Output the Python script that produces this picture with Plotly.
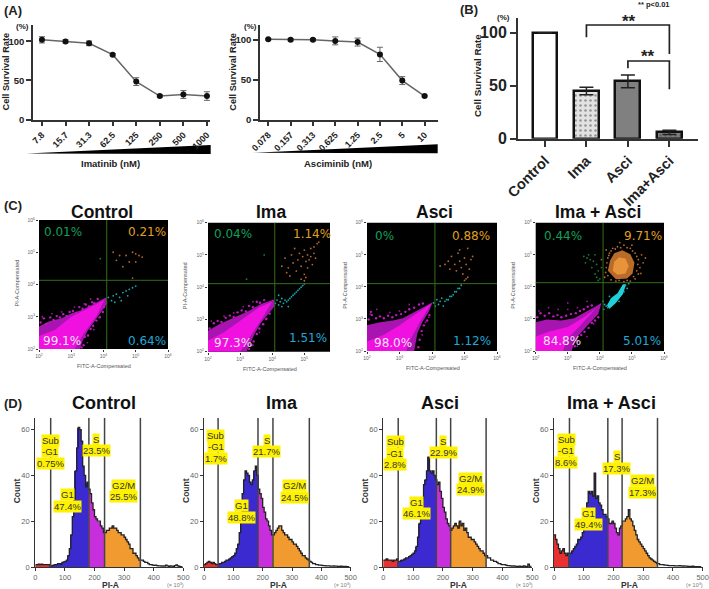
import plotly.graph_objects as go

W, H = 709, 589
SANS = "Liberation Sans"

# ---------- Panel A ----------
IMA_DOSE = ["7.8", "15.7", "31.3", "62.5", "125", "250", "500", "1000"]
IMA_RATE = [102, 100, 97.5, 83, 48.5, 30, 32, 30]
IMA_ERR = [4, 2, 3, 1.5, 5, 1.5, 5, 5.5]
ASC_DOSE = ["0.078", "0.157", "0.313", "0.625", "1.25", "2.5", "5", "10"]
ASC_RATE = [101, 100.5, 100.5, 99, 97.5, 82, 49, 29.5]
ASC_ERR = [1, 1.5, 1.5, 5, 5, 9, 5, 1]

# ---------- Panel B ----------
B_CATS = ["Control", "Ima", "Asci", "Ima+Asci"]
B_RATE = [100, 45, 54, 6]
B_ERR = [0, 3.5, 6, 2]
B_BRACKET1_X = [1, 1, 3, 3]
B_BRACKET1_Y = [95.7, 107.3, 107.3, 80]
B_BRACKET2_X = [2, 2, 3, 3]
B_BRACKET2_Y = [66.4, 73.3, 73.3, 46.6]

# ---------- Panel C (log10 units) ----------
C_TITLES = ["Control", "Ima", "Asci", "Ima + Asci"]
C_GATES = [(4.10, 4.13), (4.08, 4.11), (4.09, 4.10), (4.10, 4.13)]
C_XMAX = [6.0, 5.8, 6.0, 6.0]
C_PCT = [["0.01%", "0.21%", "99.1%", "0.64%"], ["0.04%", "1.14%", "97.3%", "1.51%"],
         ["0%", "0.88%", "98.0%", "1.12%"], ["0.44%", "9.71%", "84.8%", "5.01%"]]

MAG_OUTER = [
    [(2, 2), (2, 2.7), (2.3, 2.85), (2.7, 2.95), (3.0, 3.1), (3.3, 3.2), (3.6, 3.35), (3.85, 3.48), (4.08, 3.6), (4.12, 3.42), (3.9, 3.12), (3.7, 2.85), (3.5, 2.55), (3.35, 2.25), (3.27, 2)],
    [(2, 2), (2, 2.65), (2.35, 2.85), (2.7, 3.0), (3.0, 3.15), (3.3, 3.28), (3.65, 3.48), (4.05, 3.62), (4.08, 3.42), (3.85, 3.15), (3.65, 2.9), (3.45, 2.55), (3.3, 2.25), (3.2, 2)],
    [(2, 2), (2, 2.8), (2.4, 2.9), (2.8, 2.95), (3.1, 3.02), (3.4, 3.18), (3.7, 3.35), (4.02, 3.52), (3.9, 3.22), (3.7, 2.9), (3.55, 2.55), (3.5, 2.25), (3.45, 2)],
    [(2, 2), (2, 2.9), (2.35, 2.98), (2.8, 2.95), (3.2, 3.02), (3.55, 3.2), (3.85, 3.38), (4.05, 3.5), (3.95, 3.15), (3.6, 2.78), (3.35, 2.5), (3.2, 2.25), (3.12, 2)],
]
MAG_INNER = [
    [(2, 2), (2, 2.4), (2.5, 2.6), (3, 3.0), (3.6, 3.3), (4.03, 3.53), (3.8, 3.05), (3.4, 2.5), (3.1, 2)],
    [(2, 2), (2, 2.35), (2.5, 2.6), (3, 2.95), (3.6, 3.38), (4.0, 3.55), (3.7, 3.05), (3.3, 2.45), (3.0, 2)],
    [(2, 2), (2, 2.3), (2.5, 2.5), (3, 2.8), (3.5, 3.15), (3.98, 3.48), (3.6, 2.85), (3.3, 2.3), (3.2, 2)],
    [(2, 2), (2, 2.45), (2.4, 2.6), (3, 2.75), (3.5, 3.05), (3.9, 3.35), (3.4, 2.8), (3.0, 2.4), (2.85, 2)],
]
MAG_FRINGE = [
    [(2.05, 2.82), (2.15, 2.95), (2.22, 2.78), (2.35, 2.98), (2.45, 2.9), (2.55, 3.02), (2.65, 2.98), (2.75, 3.08), (2.85, 3.02), (2.95, 3.15),
     (3.05, 3.18), (3.15, 3.12), (3.25, 3.3), (3.35, 3.25), (3.45, 3.38), (3.55, 3.32), (3.65, 3.45), (3.72, 3.42), (3.82, 3.55), (3.42, 2.38),
     (3.52, 2.42), (3.6, 2.62), (3.68, 2.72), (3.78, 2.88), (3.88, 2.98), (3.98, 3.15), (4.02, 3.3), (3.38, 2.12), (3.32, 2.05)],
    [(2.05, 2.72), (2.18, 2.88), (2.3, 2.95), (2.42, 2.92), (2.55, 3.05), (2.68, 3.12), (2.8, 3.08), (2.92, 3.22), (3.05, 3.28), (3.18, 3.25),
     (3.28, 3.42), (3.4, 3.38), (3.52, 3.55), (3.62, 3.52), (3.75, 3.6), (3.35, 2.2), (3.42, 2.32), (3.52, 2.55), (3.6, 2.72), (3.72, 2.85),
     (3.82, 3.02), (3.92, 3.18), (3.28, 2.08)],
    [(2.05, 2.98), (2.15, 3.12), (2.28, 3.02), (2.4, 3.08), (2.52, 3.02), (2.65, 3.1), (2.78, 3.05), (2.9, 3.12), (3.05, 3.15), (3.18, 3.22),
     (3.3, 3.3), (3.45, 3.35), (3.6, 3.45), (3.72, 3.48), (3.62, 2.35), (3.68, 2.62), (3.75, 2.8), (3.85, 2.95), (3.92, 3.12), (3.58, 2.12), (2.12, 3.22)],
    [(2.05, 3.05), (2.15, 3.18), (2.28, 3.1), (2.42, 3.18), (2.55, 3.08), (2.68, 3.12), (2.8, 3.05), (2.95, 3.1), (3.1, 3.15), (3.25, 3.18),
     (3.38, 3.25), (3.5, 3.3), (3.62, 3.38), (3.75, 3.42), (3.22, 2.15), (3.3, 2.32), (3.42, 2.5), (3.52, 2.6), (3.65, 2.72), (3.75, 2.88), (3.85, 2.95), (3.95, 3.05)],
]
ORANGE_PTS = [
    [(4.3, 5.0), (4.5, 4.9), (4.7, 4.9), (4.9, 5.0), (5.0, 4.95), (5.1, 4.9), (5.2, 4.85), (4.4, 4.75), (4.8, 4.7), (5.0, 4.7), (4.9, 4.2), (4.6, 4.55)],
    [(4.4, 4.9), (4.5, 4.6), (4.6, 5.0), (4.65, 4.75), (4.7, 5.2), (4.75, 4.5), (4.8, 4.85), (4.85, 5.05), (4.9, 4.65), (4.95, 4.95),
     (5.0, 5.15), (5.0, 4.4), (5.05, 4.8), (5.1, 5.0), (5.1, 4.6), (5.15, 4.85), (5.2, 5.2), (5.2, 4.95), (5.25, 4.7), (5.3, 5.05),
     (5.3, 5.25), (5.35, 4.9), (5.4, 5.35), (4.55, 4.35), (4.9, 4.25), (5.0, 4.2), (5.05, 4.3), (5.45, 5.4), (4.3, 4.65), (4.45, 4.45)],
    [(4.25, 4.65), (4.4, 4.7), (4.5, 4.8), (4.55, 4.55), (4.6, 4.95), (4.7, 4.7), (4.75, 4.5), (4.8, 5.05), (4.85, 4.8), (4.9, 4.6),
     (4.95, 4.4), (5.0, 4.9), (5.05, 4.7), (5.1, 5.2), (5.15, 4.55), (5.2, 4.85), (5.25, 4.95), (5.0, 4.2), (5.05, 4.25), (5.1, 4.3), (4.85, 5.15)],
    [(4.15, 4.3), (4.2, 4.6), (4.25, 4.9), (4.3, 5.05), (4.4, 5.2), (4.55, 5.25), (4.75, 5.3), (4.95, 5.2), (5.1, 5.05), (5.2, 4.85),
     (5.25, 4.6), (5.2, 4.4), (5.1, 4.25), (4.95, 4.18), (4.75, 4.16), (4.5, 4.18), (5.35, 4.75), (5.3, 5.0), (4.05, 4.85), (4.62, 5.38),
     (4.18, 4.45), (4.22, 4.75), (4.28, 4.98), (4.35, 5.12), (4.48, 5.18), (4.65, 5.22), (4.85, 5.22), (5.02, 5.12), (5.15, 4.95), (5.18, 4.7),
     (5.15, 4.5), (5.05, 4.32), (4.85, 4.2), (4.6, 4.2), (4.35, 4.22), (4.25, 4.35), (5.28, 4.42), (5.42, 4.9), (4.2, 5.15), (5.0, 5.3)],
]
ORANGE_BLOB = [
    None, None, None,
    [(4.25, 4.5), (4.32, 4.82), (4.45, 5.05), (4.7, 5.14), (4.95, 5.02), (5.08, 4.75), (5.02, 4.42), (4.85, 4.26), (4.5, 4.24)],
]
ORANGE_CORE = [
    None, None, None,
    [(4.4, 4.5), (4.45, 4.78), (4.6, 4.92), (4.8, 4.88), (4.9, 4.65), (4.8, 4.42), (4.55, 4.38)],
]
TEAL_PTS = [
    [(4.15, 3.6), (4.25, 3.5), (4.3, 3.65), (4.4, 3.7), (4.5, 3.6), (4.6, 3.75), (4.7, 3.8), (4.8, 3.85), (4.9, 3.9), (5.0, 3.95), (4.35, 3.45), (4.55, 3.5), (4.75, 3.65)],
    [(4.1, 3.5), (4.15, 3.6), (4.2, 3.45), (4.25, 3.55), (4.3, 3.4), (4.3, 3.65), (4.35, 3.5), (4.4, 3.6), (4.45, 3.55), (4.5, 3.6), (4.55, 3.65), (4.6, 3.7), (4.65, 3.75),
     (4.7, 3.8), (4.75, 3.85), (4.8, 3.9), (4.85, 3.95), (4.9, 4.0), (4.95, 4.05), (5.0, 4.1), (4.5, 3.4), (4.2, 3.75)],
    [(4.05, 3.5), (4.1, 3.4), (4.15, 3.6), (4.2, 3.45), (4.25, 3.55), (4.3, 3.65), (4.35, 3.4), (4.4, 3.55), (4.45, 3.6), (4.5, 3.6), (4.55, 3.7), (4.6, 3.7), (4.65, 3.75),
     (4.7, 3.85), (4.75, 3.85), (4.8, 3.95), (4.85, 3.95), (4.9, 4.05)],
    [(4.12, 3.3), (4.15, 3.45), (4.2, 3.4), (4.25, 3.35), (4.9, 4.1), (4.85, 3.95), (4.8, 4.05), (4.75, 3.85), (4.1, 3.55), (4.3, 3.7), (4.6, 3.55)],
]
TEAL_BAND = [
    None, None, None,
    [(4.22, 3.42), (4.35, 3.65), (4.55, 3.8), (4.72, 4.08), (4.82, 4.08), (4.72, 3.78), (4.5, 3.5), (4.3, 3.32)],
]
GREEN_PTS = [
    [(3.9, 4.8)],
    [(3.2, 4.25), (3.75, 5.0)],
    [],
    [(3.5, 4.95), (3.55, 4.75), (3.6, 4.9), (3.65, 5.0), (3.7, 4.85), (3.75, 4.6), (3.8, 4.8), (3.85, 5.0), (3.9, 4.7), (3.85, 4.4), (3.9, 4.3), (3.95, 4.5), (3.95, 4.2), (4.0, 4.25), (4.05, 4.6)],
]
MAG_PTS = [
    [(2.1, 3.0), (2.4, 3.1), (2.7, 3.15), (3.1, 3.3), (3.4, 3.4), (3.6, 3.55), (3.7, 2.6), (3.5, 2.2), (3.9, 3.0)],
    [(2.1, 2.95), (2.5, 3.1), (2.8, 3.2), (3.1, 3.4), (3.4, 3.55), (3.6, 2.6), (3.4, 2.2), (3.8, 3.0)],
    [(2.1, 3.15), (2.3, 3.3), (2.7, 3.2), (3.0, 3.25), (3.3, 3.45), (3.8, 2.9), (3.7, 2.5), (3.9, 3.05)],
    [(2.1, 3.25), (2.4, 3.35), (2.7, 3.3), (3.0, 3.3), (3.3, 3.35), (3.6, 3.55), (3.6, 2.45), (3.3, 2.15), (3.8, 2.85), (3.0, 3.5)],
]

# ---------- Panel D (5-unit bins from 0 to 500) ----------
D_CONTROL = [1, 1, 1.2, 1, 1.2, 1, 1, 1, 1, 1,
             .5, .6, .8, 1, 1, 1.5, 1.5, 1.2, 2, 2.2,
             2.5, 3, 5, 8, 14, 22, 30, 42, 52, 61,
             60, 55, 44, 40, 35, 37, 34, 32, 28, 25,
             22, 21, 20, 20, 18, 17, 15, 15, 16, 16,
             17, 17, 18, 17, 17, 16, 15, 15, 14, 14,
             13, 12, 11, 10, 8, 8, 6, 6, 5, 4,
             3, 3, 3, 2.5, 2, 2, 1.5, 1, 1, .8,
             .7, .8, .6, .5, .5, .4, .5, .4, .8, .5,
             .3, .5, .4, .3, .6, .9, .5, .3, .2, .1]
D_IMA = [1, 1.5, 2, 2.5, 2, 1.5, 2, 1.5, 1, 1,
         1.5, 1.5, 2, 2, 2.5, 3, 3, 3.5, 4, 4.5,
         5, 6, 8, 10, 15, 22, 32, 38, 42, 41,
         40, 37, 36, 38, 42, 44, 40, 34, 32, 30,
         26, 24, 21, 20, 18, 16, 14, 14, 15, 16,
         17, 18, 18, 16, 15, 14, 14, 13, 12, 12,
         11, 10, 10, 9, 8, 7, 6, 5, 5, 4,
         3.5, 3, 2.5, 2, 1.5, 1.5, 1, 1, .8, .8,
         .7, .6, .6, .5, .5, .5, .4, .4, .5, .4,
         .4, .3, .3, .4, .3, .2, .3, .2, .1, .1]
D_ASCI = [3, 3, 3.5, 3, 3, 3, 2.5, 3, 3, 3.5,
          2.5, 2.5, 3, 3, 3.5, 4, 4, 4.5, 5, 5.5,
          6, 7, 9, 13, 19, 24, 30, 36, 38, 42,
          48, 42, 41, 42, 40, 38, 36, 37, 33, 30,
          26, 24, 21, 19, 18, 16, 17, 18, 19, 18,
          17, 20, 18, 19, 16, 17, 15, 13, 13, 12,
          12, 11, 10, 9, 8, 7, 7, 6, 5, 5,
          4, 4, 3, 3, 2.5, 2.5, 2, 1.5, 1.5, 1,
          1, 1, .8, .6, .6, .5, .4, .5, .4, .3,
          .3, .4, .3, .3, .5, .3, .2, 1.2, .3, .1]
D_COMBO = [14, 12, 10, 8, 6, 7, 8, 6, 5, 6,
           6, 6, 7, 8, 9, 10, 12, 12, 13, 15,
           17, 22, 28, 33, 32, 33, 31, 41, 30, 31,
           28, 27, 25, 23, 23, 22, 21, 19, 19, 20,
           19, 17, 15, 14, 17, 18, 20, 20, 21, 22,
           25, 21, 20, 18, 16, 14, 12, 11, 10, 9,
           8, 7, 6, 5, 4, 3.5, 3, 2.5, 2, 1.5,
           1.5, 1, 1, 1, .8, .8, .7, .6, .6, .6,
           .6, .5, .5, .5, .6, .5, .4, .5, .4, .4,
           .3, .3, .3, .4, .2, .2, .2, .2, .1, .1]
D_SERIES = [D_CONTROL, D_IMA, D_ASCI, D_COMBO]
D_GATES = [[52, 181, 234, 355], [48, 184, 235, 359], [50, 178, 226, 345], [52, 181, 229, 348]]
D_LABELS = [
    [("Sub\n-G1\n0.75%", 50, 451.7), ("S\n23.5%", 96, 445), ("G1\n47.4%", 67, 500.7), ("G2/M\n25.5%", 123, 491)],
    [("Sub\n-G1\n1.7%", 215.7, 447), ("S\n21.7%", 266.7, 446), ("G1\n48.8%", 241, 511.7), ("G2/M\n24.5%", 294, 491.7)],
    [("Sub\n-G1\n2.8%", 395.3, 453), ("S\n22.9%", 443, 447), ("G1\n46.1%", 416.7, 508), ("G2/M\n24.9%", 470, 484)],
    [("Sub\n-G1\n8.6%", 566, 450.7), ("S\n17.3%", 616.7, 462.7), ("G1\n49.4%", 588, 519), ("G2/M\n17.3%", 642.7, 486.7)],
]

fig = go.Figure()
layout = {}
annotations = []
shapes = []
axis_no = [0]


def text(s, x, y, size, color="#222", bold=False, angle=0, family=SANS, bg=None):
    annotations.append(dict(
        text=f"<b>{s}</b>" if bold else s, x=x / W, y=1 - y / H, xref="paper", yref="paper",
        showarrow=False, xanchor="center", yanchor="middle", textangle=angle, borderpad=0,
        font=dict(family=family, size=size, color=color), bgcolor=bg))


def axes(x0, x1, ytop, ybot, xa, ya):
    axis_no[0] += 1
    n = axis_no[0]
    sfx = "" if n == 1 else str(n)
    layout["xaxis" + sfx] = dict(domain=[x0 / W, x1 / W], anchor="y" + sfx, **xa)
    layout["yaxis" + sfx] = dict(domain=[1 - ybot / H, 1 - ytop / H], anchor="x" + sfx, **ya)
    return "x" + sfx, "y" + sfx


def base_axis(size=10, color="#222", width=1.5, ticklen=5, bold=True):
    return dict(showline=True, linecolor="#333", linewidth=width, ticks="outside", ticklen=ticklen,
                tickwidth=width, tickcolor="#333", showgrid=False, zeroline=False,
                tickfont=dict(family=SANS, size=size, color=color, weight=700 if bold else 400))


def dose_panel(labels, rate, err, x0, x1, rng, ytop, wedge, title, tx, pct_x, label_x):
    xa = base_axis(9)
    xa.update(tickmode="array", tickvals=list(range(8)), ticktext=labels, range=rng, tickangle=-45)
    ya = base_axis(9.5)
    ya.update(tickvals=[0, 50, 100], range=[0, ytop])
    xr, yr = axes(x0, x1, 25, 119.5, xa, ya)
    fig.add_trace(go.Scatter(
        x=list(range(8)), y=rate, xaxis=xr, yaxis=yr, mode="lines+markers",
        line=dict(color="#666", width=1.5), marker=dict(color="#111", size=6),
        error_y=dict(type="data", array=err, color="#666", thickness=1, width=3), showlegend=False))
    (a, b), (c, d), (e, f) = wedge
    shapes.append(dict(type="path", xref="paper", yref="paper", layer="below", fillcolor="#000", line=dict(width=0),
                       path=f"M{a/W},{1-b/H} L{c/W},{1-d/H} L{e/W},{1-f/H} Z"))
    text(title, tx, 164, 9.5, bold=True)
    text("(%)", pct_x, 27, 8, bold=True)
    text("Cell Survival Rate", label_x, 72, 9.2, bold=True, angle=-90)


dose_panel(IMA_DOSE, IMA_RATE, IMA_ERR, 33, 210, [-0.38, 7.13], 121,
           [(26.7, 153.5), (210.7, 145), (210.7, 154)], "Imatinib (nM)", 110.7, 22, 5.5)
dose_panel(ASC_DOSE, ASC_RATE, ASC_ERR, 260, 438, [-0.37, 7.6], 119,
           [(253.3, 152.7), (437.7, 144.3), (437.7, 153.3)], "Asciminib (nM)", 338, 250, 232.7)

# Panel B
xa = base_axis(14.5, width=2)
xa.update(tickvals=list(range(4)), ticktext=B_CATS, range=[-0.65, 3.69], tickangle=-45, ticklen=6)
ya = base_axis(16, width=2)
ya.update(tickvals=[0, 50, 100], range=[0, 113.9], ticklen=6)
xb, yb = axes(518, 698, 18, 138.7, xa, ya)
fig.add_trace(go.Bar(
    x=list(range(4)), y=B_RATE, width=0.6, xaxis=xb, yaxis=yb, showlegend=False,
    marker=dict(color=["#ffffff", "#e2e2e2", "#808080", "#808080"],
                line=dict(color="#111", width=2.5),
                pattern=dict(shape=["", ".", "", "."], fgcolor="#555", bgcolor=["#ffffff", "#e2e2e2", "#808080", "#909090"], size=5, solidity=0.2)),
    error_y=dict(type="data", array=B_ERR, color="#222", thickness=1.5, width=7)))
for bx, by in ((B_BRACKET1_X, B_BRACKET1_Y), (B_BRACKET2_X, B_BRACKET2_Y)):
    fig.add_trace(go.Scatter(x=bx, y=by, xaxis=xb, yaxis=yb, mode="lines", showlegend=False,
                             line=dict(color="#222", width=1.7)))
text("**", 629, 21, 17, bold=True)
text("**", 648, 56, 17, bold=True)
text("** p<0.01", 653, 5, 7.5, bold=True)
text("(%)", 503, 17, 8, bold=True)
text("Cell Survival Rate", 478, 75, 9.8, bold=True, angle=-90)

# Panel labels
text("(A)", 12.5, 10, 13, bold=True)
text("(B)", 468.5, 9, 13, bold=True)
text("(C)", 12.5, 206, 13, bold=True)
text("(D)", 12.5, 403, 13, bold=True)

# Panel C
C_BOX = [(39, 168, 220, 349), (208, 330, 222.7, 351.7), (367, 497, 222.7, 351), (535.7, 664, 222.7, 351)]
C_TITLE_X = [102, 270.7, 434.7, 598]
C_YLABEL_X = [17, 185, 345, 513]
C_PCT_POS = [
    [(63, 232), (147, 232), (62, 341), (147, 341)],
    [(233, 234), (312, 234), (233, 342.7), (308, 338)],
    [(384, 235.7), (471, 236), (393, 342.7), (472, 340.7)],
    [(563, 236), (643, 236), (562, 341), (642, 341)],
]
C_COLORS = ["#12a05a", "#e0a020", "#efe4f2", "#1fa8d8"]
DEC = ["10<sup>2</sup>", "10<sup>3</sup>", "10<sup>4</sup>", "10<sup>5</sup>", "10<sup>6</sup>"]


def polygon(pts, xr, yr, color):
    fig.add_trace(go.Scatter(x=[p[0] for p in pts], y=[p[1] for p in pts], xaxis=xr, yaxis=yr, mode="lines",
                             fill="toself", fillcolor=color, line=dict(width=0), showlegend=False))


def dots(pts, xr, yr, color, size=1.8):
    if pts:
        fig.add_trace(go.Scatter(x=[p[0] for p in pts], y=[p[1] for p in pts], xaxis=xr, yaxis=yr, mode="markers",
                                 marker=dict(color=color, size=size), showlegend=False))


for i in range(4):
    bx0, bx1, by0, by1 = C_BOX[i]
    shapes.append(dict(type="rect", xref="paper", yref="paper", layer="below", fillcolor="#000", line=dict(width=0),
                       x0=bx0 / W, x1=bx1 / W, y0=1 - by1 / H, y1=1 - by0 / H))
    xa = base_axis(5, "#666", 0.6, 2, False)
    xa.update(tickvals=[2, 3, 4, 5, 6], ticktext=DEC, range=[2, C_XMAX[i]], showline=False)
    ya = base_axis(5, "#666", 0.6, 2, False)
    ya.update(tickvals=[2, 3, 4, 5, 6], ticktext=DEC, range=[2, 6], showline=False)
    xr, yr = axes(bx0, bx1, by0, by1, xa, ya)
    polygon(MAG_OUTER[i], xr, yr, "#a814b0")
    polygon(MAG_INNER[i], xr, yr, "#f010e0")
    dots(MAG_PTS[i], xr, yr, "#a010a8")
    dots(MAG_FRINGE[i], xr, yr, "#c018c0", 2.4)
    if ORANGE_BLOB[i]:
        polygon(ORANGE_BLOB[i], xr, yr, "#b96c28")
        polygon(ORANGE_CORE[i], xr, yr, "#e8923a")
    if TEAL_BAND[i]:
        polygon(TEAL_BAND[i], xr, yr, "#20d0d8")
    dots(ORANGE_PTS[i], xr, yr, "#b8682a")
    dots(TEAL_PTS[i], xr, yr, "#1aa8b0")
    dots(GREEN_PTS[i], xr, yr, "#1a7a30")
    gx, gy = C_GATES[i]
    fig.add_trace(go.Scatter(x=[gx, gx], y=[2, 6], xaxis=xr, yaxis=yr, mode="lines", line=dict(color="#2f6f1a", width=1), showlegend=False))
    fig.add_trace(go.Scatter(x=[2, C_XMAX[i]], y=[gy, gy], xaxis=xr, yaxis=yr, mode="lines", line=dict(color="#2f6f1a", width=1), showlegend=False))
    text(C_TITLES[i], C_TITLE_X[i], 212, 17.5, color="#111", bold=True)
    text("FITC-A-Compensated", (bx0 + bx1) / 2 + 0.5, by1 + 17, 5.5, "#555")
    text("PI-A-Compensated", C_YLABEL_X[i], (by0 + by1) / 2 - 1, 5.5, "#555", angle=-90)
    for s, (px, py), c in zip(C_PCT[i], C_PCT_POS[i], C_COLORS):
        text(s, px, py, 12, c, family="DejaVu Sans")

# Panel D
D_BOX = [(35.3, 183.3), (204, 350.7), (383.3, 532.3), (554, 702.7)]
D_TITLE_X = [104, 281.7, 440, 611.7]
D_COLS = ["#e83030", "#3a2ad0", "#c82fdc", "#f09a30", "rgba(0,0,0,0)"]
BIN_X = [2.5 + 5 * k for k in range(100)]

for i in range(4):
    x0, x1 = D_BOX[i]
    xa = base_axis(7.5, "#666", 1.2, 3, False)
    xa.update(tickvals=[0, 100, 200, 300, 400, 500], range=[0, 500])
    ya = base_axis(7.5, "#666", 1.2, 3, False)
    ya.update(tickvals=[0, 20, 40, 60], range=[0, 65.2])
    xr, yr = axes(x0, x1, 417.7, 567, xa, ya)
    vals = D_SERIES[i]
    g = D_GATES[i]
    cols = [D_COLS[sum(b > t for t in g)] for b in BIN_X]
    fig.add_trace(go.Bar(x=BIN_X, y=vals, width=5, xaxis=xr, yaxis=yr, marker=dict(color=cols, line=dict(width=0)), showlegend=False))
    fig.add_trace(go.Scatter(x=[b - 2.5 for b in BIN_X], y=vals, xaxis=xr, yaxis=yr, mode="lines",
                             line=dict(color="#222", width=1.3, shape="hv"), showlegend=False))
    for t in g:
        fig.add_trace(go.Scatter(x=[t, t], y=[0, 65.2], xaxis=xr, yaxis=yr, mode="lines",
                                 line=dict(color="#444", width=1.5), showlegend=False))
    text(["Control", "Ima", "Asci", "Ima + Asci"][i], D_TITLE_X[i], 403, 18, color="#111", bold=True)
    text("PI-A", (x0 + x1) / 2 + 1, 584.5, 8.5, "#333", bold=True)
    text("Count", x0 - 18, 491, 8.5, "#333", bold=True, angle=-90)
    text("(× 10<sup>3</sup>)", x1 - 8, 584.5, 5.5, "#777")
    for lab, lx, ly in D_LABELS[i]:
        lines = lab.split("\n")
        for k, line in enumerate(lines):
            text(line, lx, ly + (k - (len(lines) - 1) / 2) * 11.7, 9.5, "#333", bg="#fff200")

fig.update_layout(width=W, height=H, margin=dict(l=0, r=0, t=0, b=0, autoexpand=False), paper_bgcolor="#fff",
                  plot_bgcolor="rgba(0,0,0,0)", showlegend=False, bargap=0, barmode="overlay",
                  annotations=annotations, shapes=shapes, **layout)
fig.write_html("out.html", config={"displayModeBar": False},
               post_script="document.body.style.margin='0';document.documentElement.style.overflow='hidden';")
